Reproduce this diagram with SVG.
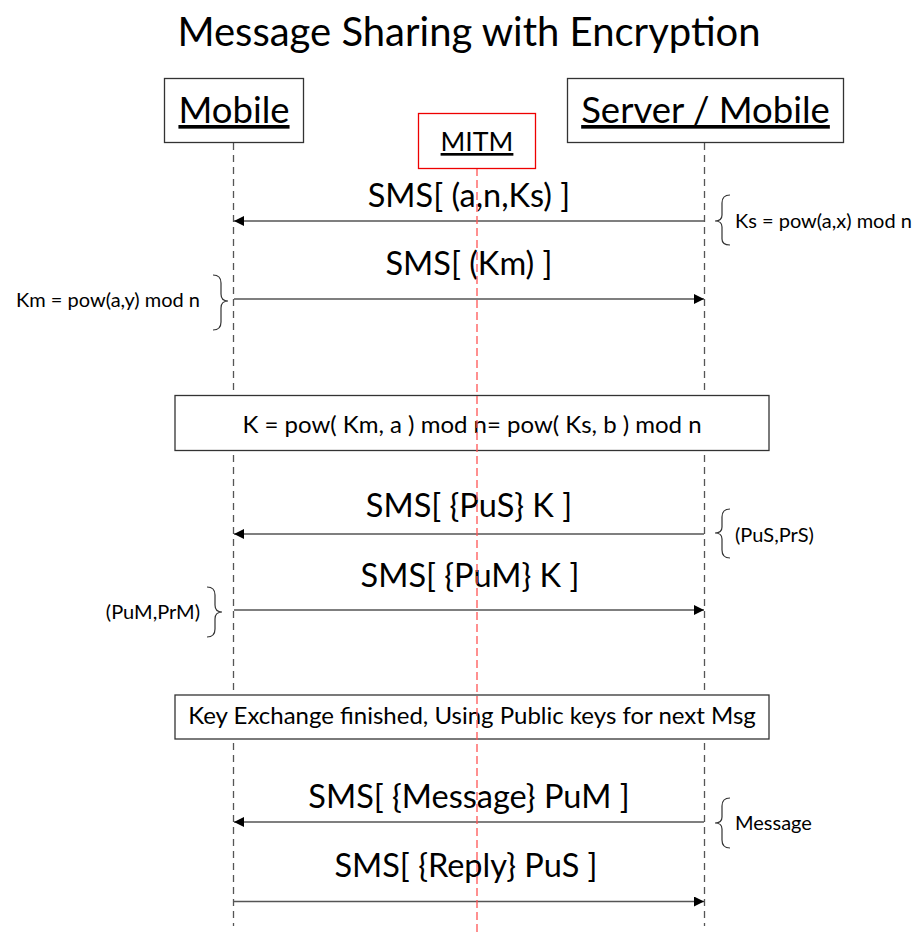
<svg xmlns="http://www.w3.org/2000/svg" width="917" height="934" viewBox="0 0 917 934">
  <style>
    text { font-family: Lato, "Liberation Sans", sans-serif; fill: #000; }
    .title { font-size: 40px; text-anchor: middle; }
    .actor { font-size: 36.5px; text-anchor: middle; text-decoration: underline; }
    .mitm { font-size: 26.7px; text-anchor: middle; text-decoration: underline; }
    .msg { font-size: 32.5px; text-anchor: middle; }
    .note { font-size: 24px; text-anchor: middle; }
    .side { font-size: 20px; }
    .box { fill: #fff; stroke: #333; stroke-width: 1.3; }
    .mbox { fill: #fff; stroke: #e00; stroke-width: 1.3; }
    .life { stroke: #555; stroke-width: 1.3; stroke-dasharray: 7 5; fill: none; }
    .redlife { stroke: #f55; stroke-width: 1.3; stroke-dasharray: 8 4; fill: none; }
    .arrow { stroke: #555; stroke-width: 1.5; fill: none; }
    .brace { stroke: #333; stroke-width: 1.2; fill: none; }
  </style>
  <defs>
    <marker id="head" viewBox="0 0 10 10" refX="10" refY="5" markerWidth="10" markerHeight="10" markerUnits="userSpaceOnUse" orient="auto">
      <path d="M0,0 L10,5 L0,10 z" fill="#000"/>
    </marker>
  </defs>

  <text class="title" x="469" y="46">Message Sharing with Encryption</text>

  <!-- lifelines -->
  <g id="lifelines">
    <line class="life" x1="233.5" y1="143" x2="233.5" y2="926"/>
    <line class="life" x1="704.5" y1="143" x2="704.5" y2="926"/>
  </g>

  <!-- participants -->
  <g id="mobile">
    <rect class="box" x="164.5" y="78.5" width="139" height="64"/>
    <text class="actor" x="234" y="123">Mobile</text>
  </g>
  <g id="server">
    <rect class="box" x="567.5" y="78.5" width="276" height="64"/>
    <text class="actor" x="705.5" y="123">Server / Mobile</text>
  </g>

  <!-- notes spanning both lifelines -->
  <g id="note-shared-key">
    <rect class="box" x="175" y="395.5" width="594" height="55"/>
    <text class="note" x="472" y="433">K = pow( Km, a ) mod n= pow( Ks, b ) mod n</text>
  </g>
  <g id="note-finished">
    <rect class="box" x="175" y="695" width="594" height="44"/>
    <text class="note" x="472" y="724">Key Exchange finished, Using Public keys for next Msg</text>
  </g>

  <!-- messages -->
  <g id="connectors">
    <line class="arrow" x1="704" y1="221" x2="234" y2="221" marker-end="url(#head)"/>
    <line class="arrow" x1="234" y1="299" x2="704" y2="299" marker-end="url(#head)"/>
    <line class="arrow" x1="704" y1="534" x2="234" y2="534" marker-end="url(#head)"/>
    <line class="arrow" x1="234" y1="610" x2="704" y2="610" marker-end="url(#head)"/>
    <line class="arrow" x1="704" y1="822" x2="234" y2="822" marker-end="url(#head)"/>
    <line class="arrow" x1="234" y1="901.5" x2="704" y2="901.5" marker-end="url(#head)"/>
  </g>
  <g id="labels">
    <text class="msg" x="469" y="207">SMS[ (a,n,Ks) ]</text>
    <text class="msg" x="469" y="275">SMS[ (Km) ]</text>
    <text class="msg" x="469" y="517">SMS[ {PuS} K ]</text>
    <text class="msg" x="470" y="587">SMS[ {PuM} K ]</text>
    <text class="msg" x="469" y="808">SMS[ {Message} PuM ]</text>
    <text class="msg" x="466" y="877">SMS[ {Reply} PuS ]</text>
  </g>

  <!-- eavesdropper -->
  <g id="mitm">
    <line class="redlife" x1="477" y1="168" x2="477" y2="934"/>
    <rect class="mbox" x="418.5" y="113.5" width="117" height="55"/>
    <text class="mitm" x="477" y="151">MITM</text>
  </g>

  <!-- side annotations -->
  <g id="note-ks">
    <path class="brace" d="M730,195 Q722,195 722,203 L722,215 Q722,221 715,221 Q722,221 722,227 L722,239 Q722,245 730,245"/>
    <text class="side" x="735" y="228">Ks = pow(a,x) mod n</text>
  </g>
  <g id="note-km">
    <path class="brace" d="M213,275 Q221,275 221,283 L221,294 Q221,301 228,301 Q221,301 221,308 L221,322 Q221,330 213,330"/>
    <text class="side" x="200" y="307" text-anchor="end">Km = pow(a,y) mod n</text>
  </g>
  <g id="note-pus">
    <path class="brace" d="M730,509 Q722,509 722,517 L722,527 Q722,533 715,533 Q722,533 722,539 L722,550 Q722,558 730,558"/>
    <text class="side" x="735" y="542">(PuS,PrS)</text>
  </g>
  <g id="note-pum">
    <path class="brace" d="M207,587 Q215,587 215,595 L215,605 Q215,612 222,612 Q215,612 215,619 L215,629 Q215,637 207,637"/>
    <text class="side" x="200" y="619" text-anchor="end">(PuM,PrM)</text>
  </g>
  <g id="note-message">
    <path class="brace" d="M730,798 Q722,798 722,806 L722,817 Q722,823 715,823 Q722,823 722,829 L722,840 Q722,848 730,848"/>
    <text class="side" x="735" y="830">Message</text>
  </g>
</svg>
